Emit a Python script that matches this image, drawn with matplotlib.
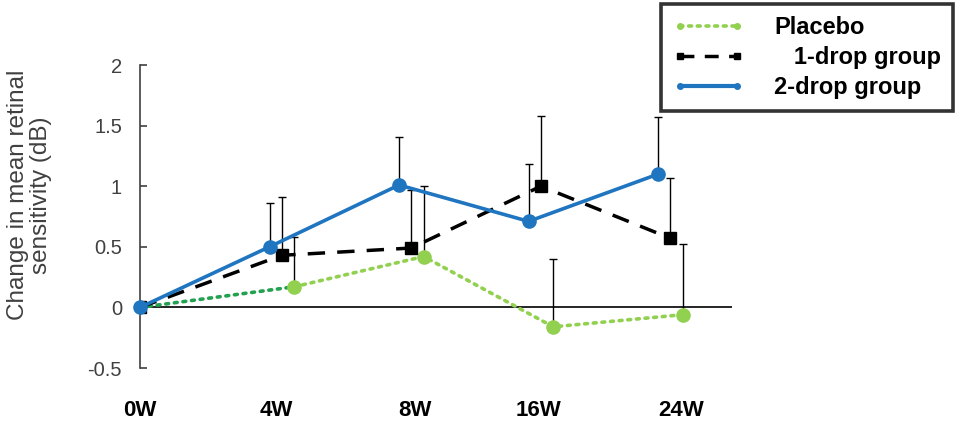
import matplotlib
matplotlib.use('Agg')
import matplotlib.pyplot as plt
import numpy as np

plt.rcParams['font.family'] = ['Liberation Sans', 'DejaVu Sans']

# data
weeks = ['0W', '4W', '8W', '16W', '24W']
placebo = [0.0, 0.17, 0.42, -0.16, -0.06]
placebo_err = [0.0, 0.41, 0.58, 0.56, 0.58]
one_drop = [0.0, 0.43, 0.49, 1.00, 0.57]
one_drop_err = [0.0, 0.48, 0.48, 0.58, 0.50]
two_drop = [0.0, 0.50, 1.01, 0.71, 1.10]
two_drop_err = [0.0, 0.36, 0.40, 0.47, 0.47]

blue = '#1f75c0'
light_green = '#92d050'
dark_green = '#23a050'
gray = '#404040'

base = np.arange(len(weeks), dtype=float)
# groups are shifted a little sideways, except at 0W
x_two = base.copy()
x_one = base + np.where(base > 0, 0.095, 0.0)
x_pla = base + np.where(base > 0, 0.19, 0.0)
label_pos = [0, 1.05, 2.12, 3.08, 4.18]

fig = plt.figure(figsize=(9.56, 4.23), dpi=100)
ax = fig.add_axes([0.1464, 0.130, 0.6193, 0.7163])

# upward-only error bars
for x, y, e in [(x_two, two_drop, two_drop_err),
                (x_one, one_drop, one_drop_err),
                (x_pla, placebo, placebo_err)]:
    e = np.array(e)
    ax.errorbar(x[1:], np.array(y)[1:], yerr=[np.zeros(len(e) - 1), e[1:]],
                fmt='none', ecolor='black', elinewidth=1.0, capsize=3,
                capthick=1.0, zorder=2)

ax.axhline(0, color='black', lw=1.2, zorder=1)

dots = (0, (0.8, 1.6))
# placebo: first segment is a darker green
ax.plot(x_pla[:2], placebo[:2], color=dark_green, lw=2.6, ls=dots,
        dash_capstyle='round', zorder=3)
ax.plot(x_pla[1:], placebo[1:], color=light_green, lw=2.6, ls=dots,
        dash_capstyle='round', zorder=3)
ax.plot(x_pla[1:], placebo[1:], 'o', color=light_green, ms=9.5, zorder=3)
lp, = ax.plot([], [], color=light_green, lw=2.6, ls=dots, marker='o', ms=4,
              dash_capstyle='round', label='Placebo')

ax.plot(x_one, one_drop, color='black', lw=2.5, ls=(0, (5, 3.5)),
        marker='s', ms=8, zorder=4)
l1, = ax.plot([], [], color='black', lw=2.5, ls=(0, (4, 3)),
              marker='s', ms=5, label='   1-drop group')
ax.plot(x_two, two_drop, color=blue, lw=2.6, marker='o', ms=9.5,
        zorder=5, clip_on=False)
l2, = ax.plot([], [], color=blue, lw=3, marker='o', ms=4,
              label='2-drop group')

ax.set_xlim(0, 4.57)
ax.set_ylim(-0.5, 2)
ax.set_yticks([-0.5, 0, 0.5, 1, 1.5, 2])
ax.set_yticklabels(['-0.5', '0', '0.5', '1', '1.5', '2'])
ax.set_xticks(label_pos)
ax.set_xticklabels(weeks, fontsize=16, fontweight='bold')

for s in ['top', 'right', 'bottom']:
    ax.spines[s].set_visible(False)
ax.spines['left'].set_color(gray)
ax.spines['left'].set_linewidth(1.2)
ax.tick_params(axis='y', direction='in', length=5, width=1.2, color=gray,
               labelcolor=gray, labelsize=14.5, pad=13)
ax.tick_params(axis='x', length=0, pad=23, labelcolor='black')

fig.text(0.031, 0.539, 'Change in mean retinal\nsensitivity (dB)',
         rotation=90, ha='center', va='center', multialignment='center',
         fontsize=17.5, color=gray, linespacing=1.05)

leg = fig.legend(handles=[lp, l1, l2], loc='upper right',
                 bbox_to_anchor=(0.997, 0.99), numpoints=2,
                 prop={'weight': 'bold', 'size': 17}, frameon=True,
                 fancybox=False, handlelength=3.0, handletextpad=1.3,
                 borderpad=0.5, labelspacing=0.3, borderaxespad=0)
leg.get_frame().set_edgecolor('black')
leg.get_frame().set_linewidth(2.6)

plt.savefig('out.png', dpi=100)
plt.close()
